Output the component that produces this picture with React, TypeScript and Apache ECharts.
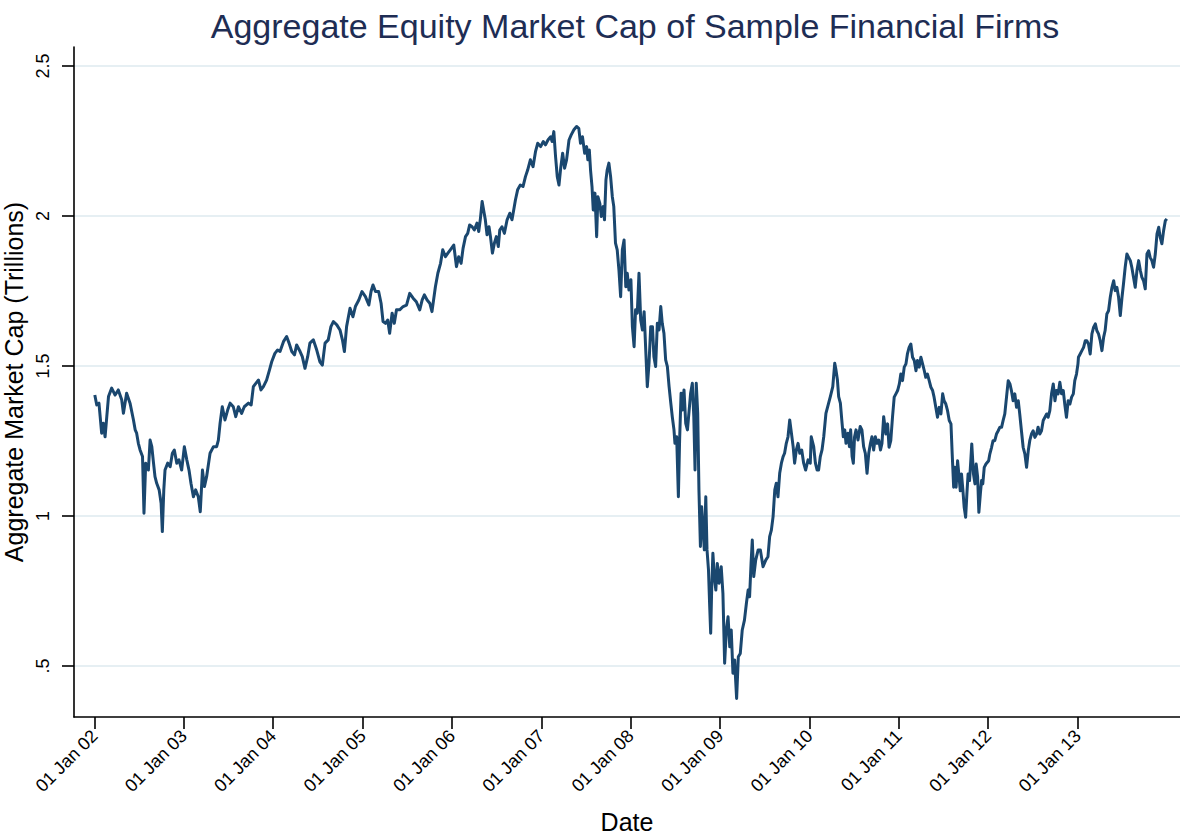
import React, { useEffect, useRef } from "react";
import * as echarts from "echarts";

const FONT = "'Liberation Sans', Arial, Helvetica, sans-serif";

const titleText = "Aggregate Equity Market Cap of Sample Financial Firms";
const xName = "Date";
const yName = "Aggregate Market Cap (Trillions)";

const yTicks = [0.5, 1, 1.5, 2, 2.5];
const xTickYears = [2002, 2003, 2004, 2005, 2006, 2007, 2008, 2009, 2010, 2011, 2012, 2013];

const cap2002: [string, number][] = [
  ["2002-01-02", 1.403], ["2002-01-10", 1.37], ["2002-01-19", 1.376], ["2002-01-30", 1.276],
  ["2002-02-06", 1.309], ["2002-02-13", 1.264], ["2002-02-20", 1.331], ["2002-02-27", 1.398],
  ["2002-03-12", 1.426], ["2002-03-26", 1.403], ["2002-04-08", 1.42], ["2002-04-22", 1.387],
  ["2002-04-29", 1.342], ["2002-05-12", 1.409], ["2002-05-26", 1.376], ["2002-06-09", 1.32],
  ["2002-06-16", 1.287], ["2002-06-22", 1.276], ["2002-06-29", 1.242], ["2002-07-06", 1.22],
  ["2002-07-16", 1.198], ["2002-07-22", 1.009], ["2002-07-29", 1.176], ["2002-08-09", 1.153],
  ["2002-08-16", 1.253], ["2002-08-23", 1.231], ["2002-08-30", 1.176], ["2002-09-05", 1.131],
  ["2002-09-12", 1.109], ["2002-09-22", 1.087], ["2002-09-30", 1.042], ["2002-10-05", 0.948],
  ["2002-10-11", 1.087], ["2002-10-16", 1.153], ["2002-10-27", 1.176], ["2002-11-06", 1.164],
  ["2002-11-15", 1.209], ["2002-11-23", 1.22], ["2002-12-03", 1.176], ["2002-12-12", 1.187],
  ["2002-12-23", 1.153],
];

const cap2003: [string, number][] = [
  ["2003-01-03", 1.231], ["2003-01-13", 1.187], ["2003-01-22", 1.153], ["2003-01-30", 1.109],
  ["2003-02-09", 1.064], ["2003-02-18", 1.087], ["2003-03-01", 1.064], ["2003-03-09", 1.014],
  ["2003-03-18", 1.153], ["2003-03-26", 1.098], ["2003-04-04", 1.131], ["2003-04-18", 1.209],
  ["2003-05-02", 1.231], ["2003-05-15", 1.231], ["2003-05-22", 1.253], ["2003-05-29", 1.309],
  ["2003-06-07", 1.364], ["2003-06-18", 1.32], ["2003-06-29", 1.353], ["2003-07-09", 1.376],
  ["2003-07-22", 1.364], ["2003-08-01", 1.331], ["2003-08-12", 1.364], ["2003-08-25", 1.342],
  ["2003-09-05", 1.364], ["2003-09-22", 1.376], ["2003-10-03", 1.37], ["2003-10-12", 1.431],
  ["2003-10-22", 1.442], ["2003-11-02", 1.453], ["2003-11-12", 1.42], ["2003-11-22", 1.431],
  ["2003-12-05", 1.453], ["2003-12-17", 1.487], ["2003-12-26", 1.514],
];

const cap2004: [string, number][] = [
  ["2004-01-08", 1.542], ["2004-01-19", 1.553], ["2004-01-29", 1.548], ["2004-02-12", 1.581],
  ["2004-02-25", 1.598], ["2004-03-06", 1.576], ["2004-03-17", 1.548], ["2004-03-28", 1.537],
  ["2004-04-06", 1.57], ["2004-04-20", 1.548], ["2004-04-29", 1.531], ["2004-05-10", 1.492],
  ["2004-05-21", 1.531], ["2004-05-30", 1.576], ["2004-06-13", 1.587], ["2004-06-27", 1.553],
  ["2004-07-10", 1.514], ["2004-07-20", 1.503], ["2004-07-31", 1.576], ["2004-08-13", 1.587],
  ["2004-08-24", 1.631], ["2004-09-03", 1.648], ["2004-09-17", 1.637], ["2004-09-30", 1.62],
  ["2004-10-10", 1.587], ["2004-10-18", 1.548], ["2004-10-27", 1.631], ["2004-11-10", 1.692],
  ["2004-11-22", 1.664], ["2004-12-02", 1.698], ["2004-12-16", 1.72], ["2004-12-29", 1.748],
];

const cap2005: [string, number][] = [
  ["2005-01-12", 1.731], ["2005-01-26", 1.703], ["2005-02-04", 1.748], ["2005-02-12", 1.77],
  ["2005-02-22", 1.748], ["2005-03-07", 1.748], ["2005-03-17", 1.709], ["2005-03-25", 1.648],
  ["2005-04-04", 1.642], ["2005-04-13", 1.653], ["2005-04-21", 1.609], ["2005-05-01", 1.676],
  ["2005-05-10", 1.642], ["2005-05-19", 1.687], ["2005-06-01", 1.687], ["2005-06-15", 1.698],
  ["2005-06-29", 1.703], ["2005-07-12", 1.742], ["2005-07-26", 1.726], ["2005-08-08", 1.714],
  ["2005-08-22", 1.687], ["2005-09-01", 1.72], ["2005-09-10", 1.737], ["2005-09-21", 1.72],
  ["2005-10-02", 1.709], ["2005-10-11", 1.681], ["2005-10-25", 1.764], ["2005-11-04", 1.809],
  ["2005-11-15", 1.842], ["2005-11-24", 1.887], ["2005-12-05", 1.864], ["2005-12-15", 1.876],
  ["2005-12-25", 1.887],
];

const cap2006: [string, number][] = [
  ["2006-01-08", 1.903], ["2006-01-19", 1.831], ["2006-01-28", 1.864], ["2006-02-07", 1.842],
  ["2006-02-15", 1.892], ["2006-02-25", 1.931], ["2006-03-06", 1.942], ["2006-03-14", 1.97],
  ["2006-03-24", 1.964], ["2006-04-02", 1.953], ["2006-04-13", 1.976], ["2006-04-20", 1.948],
  ["2006-04-27", 1.992], ["2006-05-04", 2.048], ["2006-05-10", 2.02], ["2006-05-17", 1.987],
  ["2006-05-24", 1.937], ["2006-06-01", 1.964], ["2006-06-07", 1.931], ["2006-06-15", 1.876],
  ["2006-06-23", 1.909], ["2006-07-01", 1.931], ["2006-07-09", 1.898], ["2006-07-15", 1.953],
  ["2006-07-24", 1.964], ["2006-08-03", 1.942], ["2006-08-14", 1.987], ["2006-08-25", 2.009],
  ["2006-09-03", 1.987], ["2006-09-10", 2.02], ["2006-09-17", 2.053], ["2006-09-26", 2.087],
  ["2006-10-07", 2.103], ["2006-10-18", 2.098], ["2006-10-28", 2.131], ["2006-11-06", 2.153],
  ["2006-11-17", 2.187], ["2006-11-28", 2.164], ["2006-12-08", 2.214], ["2006-12-17", 2.242],
  ["2006-12-29", 2.231],
];

const cap2007: [string, number][] = [
  ["2007-01-09", 2.248], ["2007-01-18", 2.237], ["2007-01-28", 2.253], ["2007-02-08", 2.264],
  ["2007-02-14", 2.248], ["2007-02-21", 2.281], ["2007-02-28", 2.198], ["2007-03-07", 2.131],
  ["2007-03-14", 2.103], ["2007-03-21", 2.159], ["2007-03-29", 2.209], ["2007-04-06", 2.159],
  ["2007-04-14", 2.187], ["2007-04-24", 2.253], ["2007-05-03", 2.27], ["2007-05-14", 2.287],
  ["2007-05-25", 2.298], ["2007-06-03", 2.292], ["2007-06-10", 2.242], ["2007-06-18", 2.264],
  ["2007-06-27", 2.209], ["2007-07-05", 2.231], ["2007-07-10", 2.187], ["2007-07-16", 2.22],
  ["2007-07-21", 2.153], ["2007-07-27", 2.098], ["2007-08-01", 2.02], ["2007-08-08", 2.076],
  ["2007-08-15", 1.931], ["2007-08-20", 2.064], ["2007-08-28", 2.042], ["2007-09-03", 1.998],
  ["2007-09-11", 2.031], ["2007-09-16", 1.987], ["2007-09-22", 2.12], ["2007-09-27", 2.153],
  ["2007-10-04", 2.176], ["2007-10-11", 2.131], ["2007-10-18", 2.064], ["2007-10-24", 2.031],
  ["2007-10-31", 1.909], ["2007-11-07", 1.887], ["2007-11-14", 1.82], ["2007-11-21", 1.731],
  ["2007-11-28", 1.887], ["2007-12-05", 1.92], ["2007-12-12", 1.764], ["2007-12-18", 1.809],
  ["2007-12-25", 1.753],
];

const cap2008: [string, number][] = [
  ["2008-01-02", 1.787], ["2008-01-08", 1.631], ["2008-01-15", 1.564], ["2008-01-21", 1.687],
  ["2008-01-28", 1.676], ["2008-02-04", 1.809], ["2008-02-11", 1.653], ["2008-02-18", 1.62],
  ["2008-02-25", 1.681], ["2008-03-02", 1.564], ["2008-03-09", 1.431], ["2008-03-16", 1.509],
  ["2008-03-23", 1.631], ["2008-03-30", 1.631], ["2008-04-05", 1.531], ["2008-04-12", 1.498],
  ["2008-04-19", 1.642], ["2008-04-26", 1.62], ["2008-05-03", 1.698], ["2008-05-09", 1.642],
  ["2008-05-16", 1.609], ["2008-05-23", 1.52], ["2008-05-30", 1.498], ["2008-06-06", 1.431],
  ["2008-06-13", 1.376], ["2008-06-19", 1.331], ["2008-06-26", 1.287], ["2008-06-30", 1.242],
  ["2008-07-07", 1.264], ["2008-07-14", 1.064], ["2008-07-19", 1.253], ["2008-07-25", 1.409],
  ["2008-07-30", 1.353], ["2008-08-06", 1.42], ["2008-08-13", 1.309], ["2008-08-20", 1.287],
  ["2008-08-27", 1.353], ["2008-09-02", 1.409], ["2008-09-09", 1.442], ["2008-09-15", 1.331],
  ["2008-09-20", 1.153], ["2008-09-25", 1.442], ["2008-10-01", 1.342], ["2008-10-06", 1.087],
  ["2008-10-12", 0.898], ["2008-10-17", 1.031], ["2008-10-23", 0.953], ["2008-10-28", 0.887],
  ["2008-11-03", 1.064], ["2008-11-08", 0.887], ["2008-11-14", 0.82], ["2008-11-19", 0.698],
  ["2008-11-23", 0.609], ["2008-11-27", 0.753], ["2008-12-02", 0.876], ["2008-12-08", 0.798],
  ["2008-12-14", 0.753], ["2008-12-20", 0.842], ["2008-12-27", 0.776],
];

const cap2009: [string, number][] = [
  ["2009-01-05", 0.831], ["2009-01-12", 0.742], ["2009-01-19", 0.509], ["2009-01-26", 0.62],
  ["2009-02-02", 0.664], ["2009-02-09", 0.564], ["2009-02-15", 0.62], ["2009-02-22", 0.476],
  ["2009-03-01", 0.52], ["2009-03-05", 0.453], ["2009-03-09", 0.392], ["2009-03-16", 0.531],
  ["2009-03-24", 0.542], ["2009-04-01", 0.62], ["2009-04-10", 0.653], ["2009-04-18", 0.709],
  ["2009-04-25", 0.753], ["2009-05-01", 0.731], ["2009-05-07", 0.842], ["2009-05-12", 0.92],
  ["2009-05-18", 0.798], ["2009-05-26", 0.853], ["2009-06-05", 0.887], ["2009-06-14", 0.887],
  ["2009-06-25", 0.831], ["2009-07-06", 0.853], ["2009-07-15", 0.864], ["2009-07-22", 0.931],
  ["2009-07-29", 0.953], ["2009-08-05", 0.998], ["2009-08-12", 1.087], ["2009-08-18", 1.109],
  ["2009-08-25", 1.064], ["2009-09-01", 1.142], ["2009-09-08", 1.176], ["2009-09-15", 1.198],
  ["2009-09-21", 1.209], ["2009-09-28", 1.242], ["2009-10-05", 1.264], ["2009-10-12", 1.32],
  ["2009-10-19", 1.276], ["2009-10-26", 1.231], ["2009-11-01", 1.176], ["2009-11-08", 1.22],
  ["2009-11-15", 1.242], ["2009-11-22", 1.209], ["2009-11-30", 1.22], ["2009-12-08", 1.176],
  ["2009-12-16", 1.153], ["2009-12-26", 1.187],
];

const cap2010: [string, number][] = [
  ["2010-01-04", 1.176], ["2010-01-08", 1.264], ["2010-01-18", 1.231], ["2010-01-25", 1.176],
  ["2010-02-01", 1.153], ["2010-02-07", 1.153], ["2010-02-14", 1.198], ["2010-02-21", 1.22],
  ["2010-02-28", 1.264], ["2010-03-09", 1.342], ["2010-03-20", 1.376], ["2010-03-27", 1.398],
  ["2010-04-06", 1.431], ["2010-04-14", 1.509], ["2010-04-19", 1.487], ["2010-04-25", 1.453],
  ["2010-04-30", 1.398], ["2010-05-07", 1.376], ["2010-05-14", 1.309], ["2010-05-19", 1.264],
  ["2010-05-25", 1.287], ["2010-05-30", 1.242], ["2010-06-07", 1.276], ["2010-06-13", 1.231],
  ["2010-06-18", 1.287], ["2010-06-24", 1.198], ["2010-06-29", 1.176], ["2010-07-04", 1.264],
  ["2010-07-10", 1.287], ["2010-07-18", 1.253], ["2010-07-27", 1.298], ["2010-08-03", 1.287],
  ["2010-08-10", 1.231], ["2010-08-17", 1.209], ["2010-08-24", 1.142], ["2010-08-31", 1.209],
  ["2010-09-07", 1.242], ["2010-09-13", 1.264], ["2010-09-20", 1.22], ["2010-09-27", 1.264],
  ["2010-10-04", 1.242], ["2010-10-11", 1.253], ["2010-10-18", 1.22], ["2010-10-24", 1.242],
  ["2010-10-31", 1.331], ["2010-11-09", 1.273], ["2010-11-16", 1.307], ["2010-11-22", 1.229],
  ["2010-11-29", 1.251], ["2010-12-06", 1.329], ["2010-12-13", 1.396], ["2010-12-20", 1.407],
  ["2010-12-27", 1.418],
];

const cap2011: [string, number][] = [
  ["2011-01-03", 1.44], ["2011-01-09", 1.473], ["2011-01-16", 1.451], ["2011-01-23", 1.496],
  ["2011-01-30", 1.507], ["2011-02-05", 1.54], ["2011-02-12", 1.562], ["2011-02-19", 1.573],
  ["2011-02-26", 1.529], ["2011-03-05", 1.518], ["2011-03-12", 1.484], ["2011-03-18", 1.518],
  ["2011-03-25", 1.496], ["2011-04-01", 1.529], ["2011-04-08", 1.507], ["2011-04-15", 1.484],
  ["2011-04-21", 1.462], ["2011-04-28", 1.473], ["2011-05-05", 1.451], ["2011-05-12", 1.429],
  ["2011-05-19", 1.418], ["2011-05-25", 1.396], ["2011-06-01", 1.362], ["2011-06-08", 1.329],
  ["2011-06-15", 1.362], ["2011-06-22", 1.34], ["2011-06-29", 1.407], ["2011-07-05", 1.384],
  ["2011-07-12", 1.373], ["2011-07-19", 1.351], ["2011-07-26", 1.318], ["2011-08-02", 1.307],
  ["2011-08-07", 1.207], ["2011-08-13", 1.096], ["2011-08-18", 1.162], ["2011-08-23", 1.096],
  ["2011-08-29", 1.184], ["2011-09-03", 1.14], ["2011-09-09", 1.084], ["2011-09-14", 1.14],
  ["2011-09-20", 1.084], ["2011-09-25", 1.029], ["2011-10-01", 0.996], ["2011-10-06", 1.073],
  ["2011-10-11", 1.14], ["2011-10-17", 1.118], ["2011-10-22", 1.184], ["2011-10-26", 1.24],
  ["2011-11-02", 1.14], ["2011-11-08", 1.107], ["2011-11-13", 1.173], ["2011-11-19", 1.129],
  ["2011-11-24", 1.012], ["2011-11-30", 1.073], ["2011-12-05", 1.118], ["2011-12-10", 1.107],
  ["2011-12-16", 1.162], ["2011-12-23", 1.173],
];

const cap2012: [string, number][] = [
  ["2012-01-03", 1.184], ["2012-01-08", 1.207], ["2012-01-15", 1.229], ["2012-01-21", 1.251],
  ["2012-01-28", 1.251], ["2012-02-04", 1.273], ["2012-02-11", 1.284], ["2012-02-18", 1.296],
  ["2012-02-25", 1.296], ["2012-03-02", 1.318], ["2012-03-09", 1.34], ["2012-03-16", 1.396],
  ["2012-03-23", 1.451], ["2012-03-30", 1.44], ["2012-04-05", 1.418], ["2012-04-12", 1.384],
  ["2012-04-19", 1.407], ["2012-04-26", 1.362], ["2012-05-03", 1.384], ["2012-05-09", 1.34],
  ["2012-05-16", 1.284], ["2012-05-23", 1.229], ["2012-05-30", 1.207], ["2012-06-06", 1.162],
  ["2012-06-13", 1.218], ["2012-06-19", 1.251], ["2012-06-26", 1.273], ["2012-07-03", 1.284],
  ["2012-07-10", 1.262], ["2012-07-17", 1.273], ["2012-07-23", 1.296], ["2012-07-30", 1.273],
  ["2012-08-06", 1.284], ["2012-08-13", 1.318], ["2012-08-20", 1.329], ["2012-08-27", 1.34],
  ["2012-09-02", 1.329], ["2012-09-09", 1.351], ["2012-09-16", 1.407], ["2012-09-23", 1.44],
  ["2012-09-30", 1.384], ["2012-10-06", 1.418], ["2012-10-13", 1.407], ["2012-10-20", 1.446],
  ["2012-10-27", 1.407], ["2012-11-03", 1.418], ["2012-11-09", 1.373], ["2012-11-16", 1.329],
  ["2012-11-23", 1.384], ["2012-11-30", 1.373], ["2012-12-07", 1.396], ["2012-12-14", 1.407],
  ["2012-12-20", 1.451], ["2012-12-27", 1.473],
];

const cap2013: [string, number][] = [
  ["2013-01-02", 1.507], ["2013-01-04", 1.529], ["2013-01-11", 1.54], ["2013-01-18", 1.551],
  ["2013-01-25", 1.562], ["2013-02-01", 1.584], ["2013-02-07", 1.584], ["2013-02-14", 1.573],
  ["2013-02-21", 1.54], ["2013-02-28", 1.607], ["2013-03-07", 1.629], ["2013-03-14", 1.64],
  ["2013-03-20", 1.618], ["2013-03-27", 1.607], ["2013-04-03", 1.584], ["2013-04-10", 1.551],
  ["2013-04-17", 1.596], ["2013-04-23", 1.618], ["2013-04-30", 1.673], ["2013-05-07", 1.684],
  ["2013-05-14", 1.729], ["2013-05-21", 1.762], ["2013-05-28", 1.784], ["2013-06-03", 1.751],
  ["2013-06-10", 1.762], ["2013-06-17", 1.729], ["2013-06-24", 1.668], ["2013-07-01", 1.729],
  ["2013-07-07", 1.773], ["2013-07-14", 1.829], ["2013-07-21", 1.873], ["2013-07-28", 1.862],
  ["2013-08-04", 1.851], ["2013-08-10", 1.829], ["2013-08-17", 1.796], ["2013-08-24", 1.762],
  ["2013-08-31", 1.818], ["2013-09-07", 1.851], ["2013-09-14", 1.818], ["2013-09-20", 1.796],
  ["2013-09-27", 1.784], ["2013-10-04", 1.757], ["2013-10-11", 1.873], ["2013-10-18", 1.884],
  ["2013-10-24", 1.862], ["2013-10-31", 1.851], ["2013-11-07", 1.829], ["2013-11-14", 1.873],
  ["2013-11-21", 1.94], ["2013-11-28", 1.962], ["2013-12-04", 1.929], ["2013-12-11", 1.907],
  ["2013-12-18", 1.951], ["2013-12-25", 1.984], ["2013-12-31", 1.99],
];

const allData = [
  ...cap2002, ...cap2003, ...cap2004, ...cap2005, ...cap2006, ...cap2007,
  ...cap2008, ...cap2009, ...cap2010, ...cap2011, ...cap2012, ...cap2013,
];

function toTime(s: string): number {
  const [y, m, d] = s.split("-").map(Number);
  return Date.UTC(y, m - 1, d);
}

export default function App() {
  const ref = useRef<HTMLDivElement>(null);
  useEffect(() => {
    if (!ref.current) return;
    const chart = echarts.init(ref.current, null, { renderer: "svg" });
    const xTickValues = xTickYears.map((y) => Date.UTC(y, 0, 1));
    const seriesData = allData.map(([d, v]) => [toTime(d), v]);
    chart.setOption({
      animation: false,
      backgroundColor: "#ffffff",
      title: {
        text: titleText,
        left: 630,
        top: 4,
        textAlign: "center",
        textStyle: {
          fontFamily: FONT,
          fontSize: 34,
          fontWeight: "normal",
          color: "#1e2d54",
        },
      },
      grid: { left: 74, right: 0, top: 47, bottom: 119, containLabel: false, outerBoundsMode: "none" },
      xAxis: {
        type: "value",
        min: Date.UTC(2001, 9, 9),
        max: Date.UTC(2014, 1, 23),
        name: xName,
        nameLocation: "middle",
        nameGap: 92,
        nameTextStyle: { fontFamily: FONT, fontSize: 25, color: "#000" },
        axisLine: { show: true, lineStyle: { color: "#000", width: 1.6 } },
        axisTick: { show: true, length: 12, customValues: xTickValues, lineStyle: { color: "#000", width: 1.6 } },
        axisLabel: {
          customValues: xTickValues,
          rotate: 45,
          margin: 16,
          fontFamily: FONT,
          fontSize: 18,
          color: "#000",
          formatter: (v: number) => "01 Jan " + String(new Date(v).getUTCFullYear()).slice(2),
        },
        splitLine: { show: false },
      },
      yAxis: {
        type: "value",
        min: 0.33,
        max: 2.563,
        name: yName,
        nameLocation: "middle",
        nameGap: 45,
        nameTextStyle: { fontFamily: FONT, fontSize: 25, color: "#000" },
        axisLine: { show: true, lineStyle: { color: "#000", width: 1.6 } },
        axisTick: { show: true, length: 12, customValues: yTicks, lineStyle: { color: "#000", width: 1.6 } },
        axisLabel: {
          customValues: yTicks,
          rotate: 90,
          margin: 22,
          fontFamily: FONT,
          fontSize: 18,
          color: "#000",
          formatter: (v: number) => (v === 0.5 ? ".5" : String(v)),
        },
        splitLine: { show: true, lineStyle: { color: "#e6eff3", width: 2 } },
      },
      series: [
        {
          type: "line",
          data: seriesData,
          showSymbol: false,
          symbol: "none",
          silent: true,
          lineStyle: { color: "#1a476f", width: 3, join: "round" },
        },
      ],
    });
    return () => chart.dispose();
  }, []);
  return (
    <div
      ref={ref}
      style={{ position: "fixed", left: 0, top: 0, width: 1180, height: 836, background: "#fff" }}
    />
  );
}
